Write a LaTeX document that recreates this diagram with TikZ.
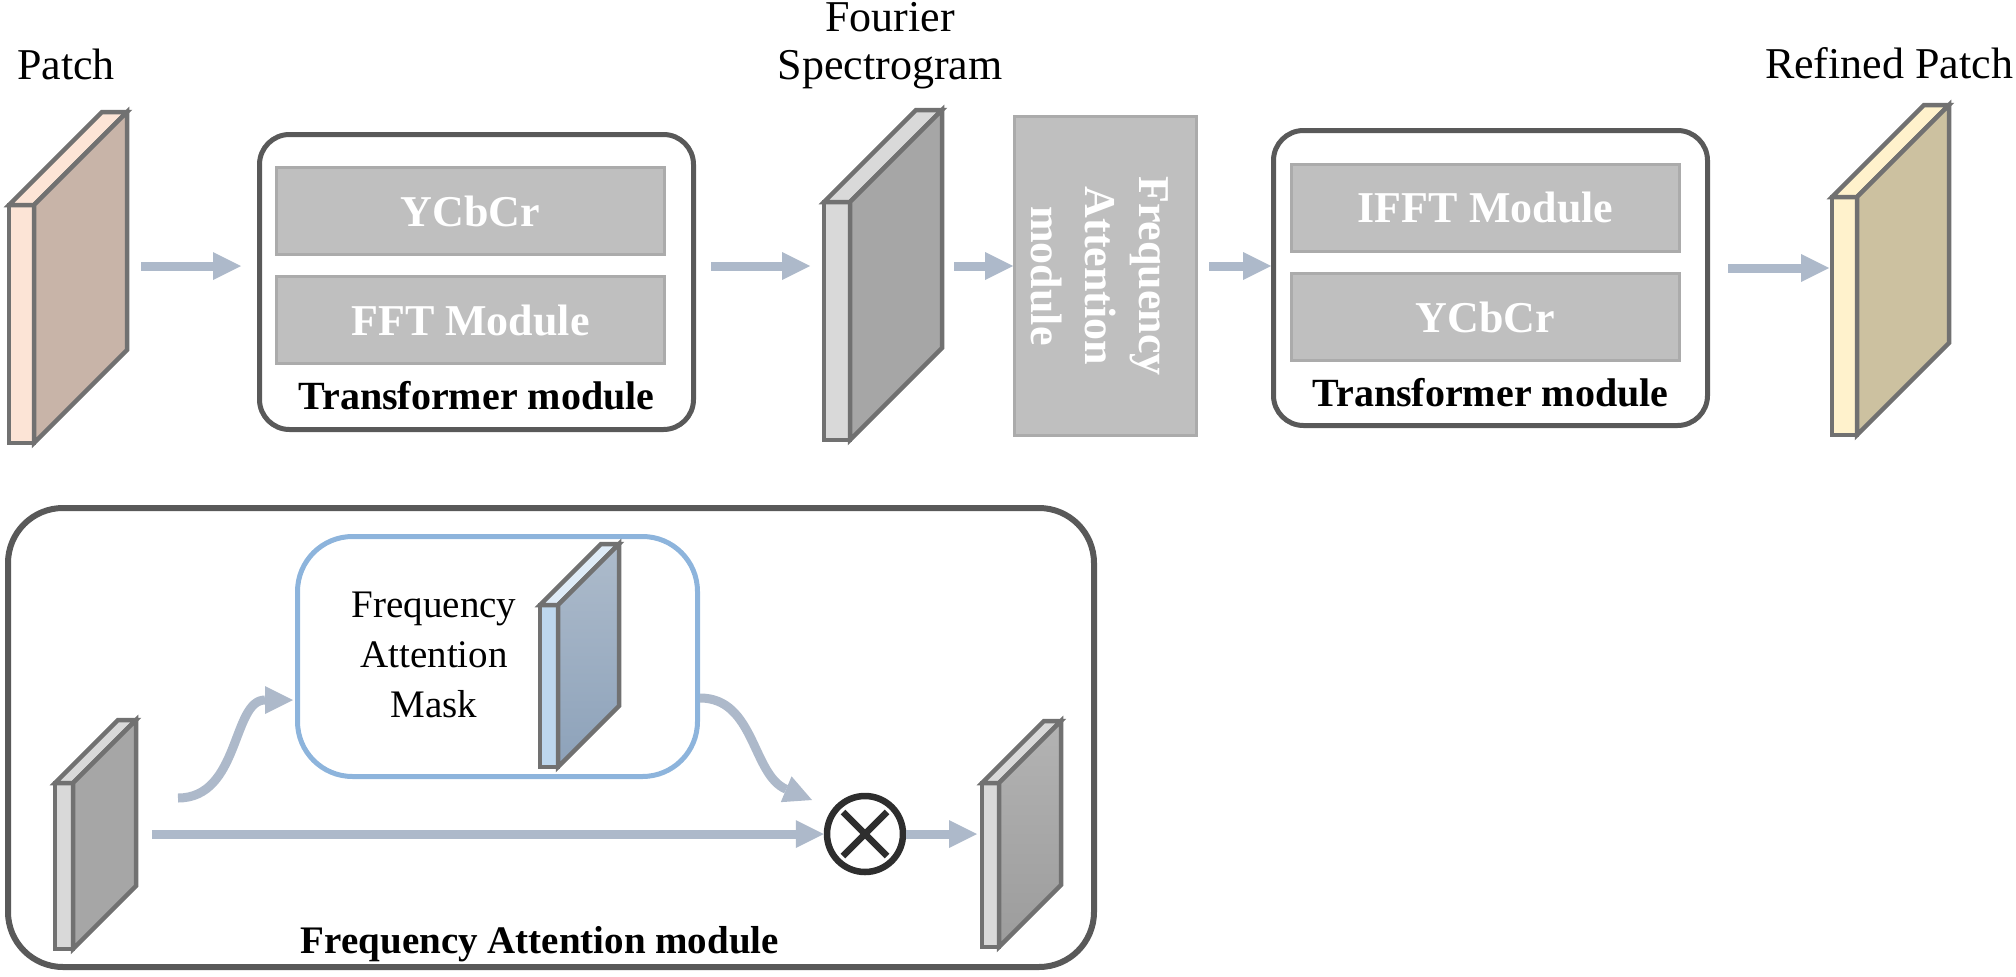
\documentclass[tikz,border=0pt]{standalone}
\usepackage{fontspec}
\setmainfont{Liberation Serif}
\usetikzlibrary{arrows.meta,calc}
\definecolor{arrowc}{HTML}{ADB9CA}
\definecolor{boxgray}{HTML}{595959}
\definecolor{innerfill}{HTML}{BFBFBF}
\definecolor{innerline}{HTML}{ABABAB}
\definecolor{slabline}{HTML}{717171}
\definecolor{bluebox}{HTML}{8DB4DC}
\definecolor{patchthin}{HTML}{FCE4D6}
\definecolor{patchmain}{HTML}{C8B4A8}
\definecolor{graythin}{HTML}{D9D9D9}
\definecolor{graymain}{HTML}{A6A6A6}
\definecolor{refthin}{HTML}{FFF2CC}
\definecolor{refmain}{HTML}{CCC1A0}
\definecolor{maskthin}{HTML}{BDD7EE}
\definecolor{masktop}{HTML}{DEEBF7}
\definecolor{maskhi}{HTML}{ADBBCB}
\definecolor{masklo}{HTML}{8DA2BA}
\definecolor{outhi}{HTML}{B3B3B3}
\definecolor{outlo}{HTML}{9C9C9C}
\definecolor{oxline}{HTML}{2E2E2E}
\tikzset{
  slabedge/.style={draw=slabline, line width=4.5pt, line join=miter},
  tmbox/.style={draw=boxgray, line width=5pt, rounded corners=30pt, fill=white, inner sep=0pt, minimum width=434pt, minimum height=295pt},
  innerbox/.style={draw=innerline, line width=3pt, fill=innerfill, text=white, inner sep=0pt, minimum width=388pt, minimum height=87pt, font=\bfseries\fontsize{44}{48}\selectfont},
  lbl/.style={font=\fontsize{44}{48}\selectfont, inner sep=0pt},
  boldlbl/.style={font=\bfseries\fontsize{40}{44}\selectfont, inner sep=0pt},
  arr/.style={draw=arrowc, line width=9pt, -{Triangle[length=28pt,width=28pt,line width=0pt]}},
}
\newcommand{\drawslab}[9]{%
  \filldraw[slabedge, #6] (#1,#3) rectangle (#2,#4);
  \filldraw[slabedge, #8] (#1,#3) -- (#2,#3) -- ({#2+#5},{#3-#5}) -- ({#1+#5},{#3-#5}) -- cycle;
  \filldraw[slabedge, #7] (#2,#3) -- ({#2+#5},{#3-#5}) -- ({#2+#5},{#4-#5}) -- (#2,#4) -- cycle;
  \coordinate (#9) at ({#2+#5},{(#3+#4)/2-#5/2});
}
\begin{document}
\begin{tikzpicture}[x=1pt,y=-1pt]
\useasboundingbox (0,0) rectangle (2016,977);

% ---------- top row ----------
\node[lbl, anchor=base] (patchlbl) at (66,79) {Patch};
\drawslab{9}{34}{205}{443}{93}{fill=patchthin}{fill=patchmain}{fill=patchthin}{patch}

\node[tmbox] (tm1) at (476.5,282) {};
\node[innerbox] (ycc1) at (470.5,211) {YCbCr};
\node[innerbox] (fft) at (470.5,320) {FFT Module};
\node[boldlbl, anchor=base] (tm1lbl) at (476.5,409) {Transformer module};

\node[lbl, align=center, anchor=north] (fslbl) at (890,2) {Fourier\\Spectrogram};
\drawslab{824}{850}{202}{440}{92}{fill=graythin}{fill=graymain}{fill=graythin}{fspec}

\node[draw=innerline, line width=3pt, fill=innerfill, minimum width=182pt, minimum height=319pt, inner sep=0pt] (fa) at (1105.5,276) {};
\node[rotate=-90, text=white, align=center, inner sep=0pt, font=\bfseries\fontsize{44}{54}\selectfont] (falbl) at (1100,276) {Frequency\\Attention\\module};

\node[tmbox] (tm2) at (1490.5,278) {};
\node[innerbox] (ifft) at (1485.5,208) {IFFT Module};
\node[innerbox] (ycc2) at (1485.5,317) {YCbCr};
\node[boldlbl, anchor=base] (tm2lbl) at (1490.5,406) {Transformer module};

\node[lbl, anchor=base] (rplbl) at (1889,78) {Refined Patch};
\drawslab{1832}{1857}{197}{435}{92}{fill=refthin}{fill=refmain}{fill=refthin}{refined}

% top arrows
\coordinate (a1s) at (141,266);
\coordinate (a2s) at (711,266);
\coordinate (a3s) at (954,266);
\coordinate (a4s) at (1209,266);
\coordinate (a5s) at (1728,268);
\draw[arr, shorten >=16pt] (a1s) -- (a1s -| tm1.west);
\draw[arr] (a2s) -- (810,266);
\draw[arr] (a3s) -- (a3s -| fa.west);
\draw[arr] (a4s) -- (a4s -| tm2.west);
\draw[arr] (a5s) -- (1829,268);

% ---------- bottom panel ----------
\node[draw=boxgray, line width=6pt, rounded corners=55pt, minimum width=1086pt, minimum height=459pt, inner sep=0pt] (fam) at (551,737.5) {};
\node[font=\bfseries\fontsize{39}{44}\selectfont, anchor=base, inner sep=0pt] (famlbl) at (540,953) {Frequency Attention module};

\node[draw=bluebox, line width=5pt, rounded corners=55pt, minimum width=400pt, minimum height=240pt, inner sep=0pt] (mask) at (497.5,656.5) {};
\node[font=\fontsize{39}{50}\selectfont, align=center, inner sep=0pt] (masklbl) at (434,655) {Frequency\\Attention\\Mask};
\drawslab{540}{558}{605}{767}{61}{fill=maskthin}{top color=maskhi, bottom color=masklo}{fill=masktop}{maskslab}

\drawslab{55}{73}{783}{949}{63}{fill=graythin}{fill=graymain}{fill=graythin}{inslab}
\drawslab{982}{999}{783}{947}{62}{fill=graythin}{top color=outhi, bottom color=outlo}{fill=graythin}{outslab}

\node[circle, draw=oxline, line width=6.5pt, fill=white, minimum size=76pt, inner sep=0pt] (ox) at (865,834) {};
\draw[oxline, line width=6.5pt] ($(ox)+(-22,-22)$) -- ($(ox)+(22,22)$);
\draw[oxline, line width=6.5pt] ($(ox)+(-22,22)$) -- ($(ox)+(22,-22)$);

\coordinate (b1s) at (152,834);
\coordinate (c1s) at (178,798);
\coordinate (c1e) at (293,700);
\coordinate (c2s) at (700,698);
\coordinate (c2e) at (812,800);
\draw[arr] (b1s) -- (ox.west);
\draw[arr] (ox.east) -- (977,834);
\draw[arr] (c1s) .. controls (240,798) and (232,700) .. (c1e);
\draw[arr] (c2s) .. controls (755,698) and (752,775) .. (c2e);
\end{tikzpicture}
\end{document}
